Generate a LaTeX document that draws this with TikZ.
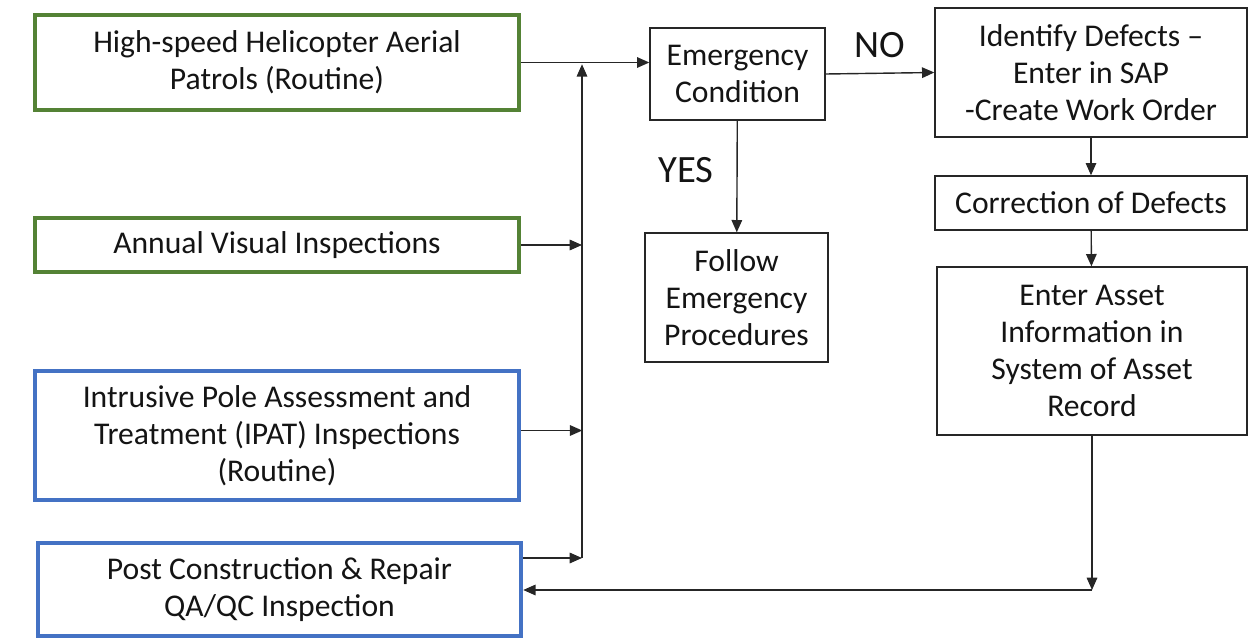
\documentclass[tikz,border=0pt]{standalone}
\usepackage{fontspec}
\setmainfont{Carlito}
\usetikzlibrary{arrows.meta,positioning}
\definecolor{patrolgreen}{RGB}{84,130,53}
\definecolor{ipatblue}   {RGB}{68,114,196}
\definecolor{inktext}    {RGB}{20,20,20}

\begin{document}
\begin{tikzpicture}[
  x=0.02cm, y=-0.02cm,
  every node/.style={font=\fontsize{18}{21}\selectfont, align=center, text=inktext},
  srcgreen/.style={draw=patrolgreen, line width=2.6pt, fill=white, inner sep=0pt},
  srcblue/.style={draw=ipatblue, line width=2.6pt, fill=white, inner sep=0pt},
  box/.style={draw=black!85, line width=0.8pt, fill=white, inner sep=0pt},
  tag/.style={font=\fontsize{22}{26}\selectfont},
  arrow/.style={-{Triangle[length=7pt,width=6pt]}, line width=0.8pt, black!85}
]
  \useasboundingbox (0,0) rectangle (1248,642);
  % Nodes
  \node (patrol) [srcgreen, minimum width=9.68cm, minimum height=1.9cm] at (277,62.5) {High-speed Helicopter Aerial\\Patrols (Routine)};
  \node (annual) [srcgreen, minimum width=9.68cm, minimum height=1.08cm] at (277,245) {Annual Visual Inspections};
  \node (ipat) [srcblue, minimum width=9.68cm, minimum height=2.58cm] at (277,435.5) {Intrusive Pole Assessment and\\Treatment (IPAT) Inspections\\(Routine)};
  \node (qaqc) [srcblue, minimum width=9.66cm, minimum height=1.86cm] at (279.5,589.5) {Post Construction \& Repair\\QA/QC Inspection};

  \node (emerg) [box, minimum width=3.5cm, minimum height=1.84cm] at (737.5,74) {Emergency\\Condition};
  \node (follow) [box, minimum width=3.66cm, minimum height=2.58cm] at (736.5,297.5) {Follow\\Emergency\\Procedures};
  \node (defects) [box, minimum width=6.24cm, minimum height=2.58cm] at (1091,72.5) {Identify Defects –\\Enter in SAP\\-Create Work Order};
  \node (correct) [box, minimum width=6.24cm, minimum height=1.08cm] at (1091,203) {Correction of Defects};
  \node (record) [box, minimum width=6.2cm, minimum height=3.36cm] at (1092,351) {Enter Asset\\Information in\\System of Asset\\Record};

  \node (no) [tag] at (880,45) {NO};
  \node (yes) [tag] at (686,170) {YES};

  \coordinate (merge) at (582,558);
  \coordinate (back) at (1092,590);

  % Paths
  \draw [arrow] (patrol.east) -- (patrol.east -| emerg.west);
  \draw [arrow] (annual.east) -- (annual.east -| merge);
  \draw [arrow] (ipat.east) ++(0,-5) -- ++(61,0);
  \draw [arrow] (qaqc.east |- merge) -- (merge);
  \draw [arrow] (merge) -- ([yshift=-1pt]merge |- patrol.east);
  \draw [arrow] (emerg) -- (follow);
  \draw [arrow] (emerg.east) -- (defects.west);
  \draw [arrow] (defects) -- (correct);
  \draw [arrow] (correct) -- (record);
  \draw [arrow] (record) -- (back);
  \draw [arrow] (back) -- (back -| qaqc.east);
\end{tikzpicture}
\end{document}
